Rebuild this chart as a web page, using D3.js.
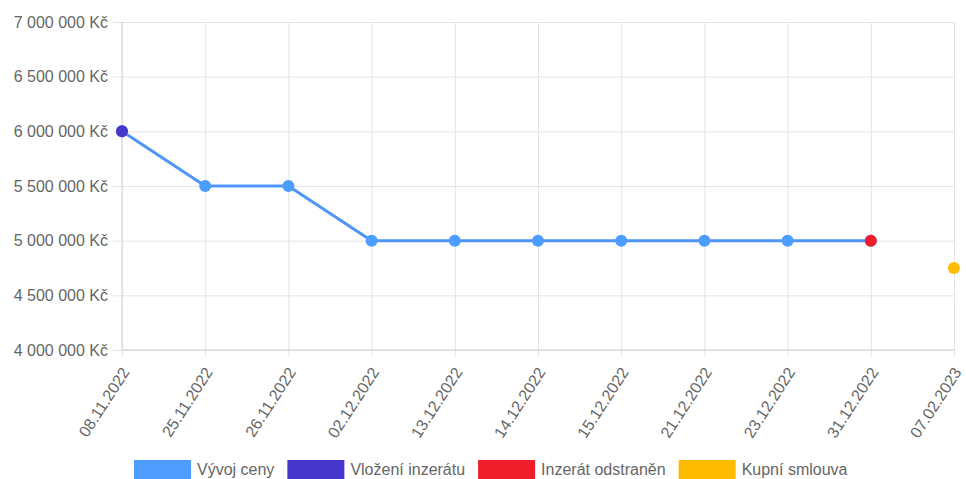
<!DOCTYPE html>
<html>
<head>
<meta charset="utf-8">
<script src="https://cdn.jsdelivr.net/npm/d3@7"></script>
<style>
  html, body { margin: 0; padding: 0; background: #fff; }
  svg { display: block; font-family: "Liberation Sans", Arial, sans-serif; }
</style>
</head>
<body>
<script>
// category dates on the x axis
const dates = ['08.11.2022', '25.11.2022', '26.11.2022', '02.12.2022', '13.12.2022',
  '14.12.2022', '15.12.2022', '21.12.2022', '23.12.2022', '31.12.2022', '07.02.2023'];

// series values (null = no point)
const priceHistory = [6000000, 5500000, 5500000, 5000000, 5000000, 5000000, 5000000, 5000000, 5000000, 5000000, null];
const listingAdded = [6000000, null, null, null, null, null, null, null, null, null, null];
const listingRemoved = [null, null, null, null, null, null, null, null, null, 5000000, null];
const purchaseContract = [null, null, null, null, null, null, null, null, null, null, 4750000];

const yTicks = [4000000, 4500000, 5000000, 5500000, 6000000, 6500000, 7000000];

const seriesNames = ['Vývoj ceny', 'Vložení inzerátu', 'Inzerát odstraněn', 'Kupní smlouva'];
const seriesColors = ['#4c9dff', '#4636cc', '#ee1f2a', '#ffbb00'];

const width = 966, height = 479;
const margin = { top: 22, right: 12, bottom: 129, left: 122 };

const svg = d3.select('body').append('svg')
  .attr('width', width)
  .attr('height', height);

const x = d3.scalePoint()
  .domain(dates)
  .range([margin.left, width - margin.right]);

const y = d3.scaleLinear()
  .domain([4000000, 7000000])
  .range([height - margin.bottom, margin.top]);

const fmt = v => d3.format(',')(v).replace(/,/g, '\u00a0') + '\u00a0Kč';

// horizontal grid + y labels
const yAxis = svg.append('g')
  .attr('transform', `translate(${margin.left},0)`)
  .call(d3.axisLeft(y).tickValues(yTicks).tickFormat(fmt)
    .tickSize(9).tickSizeOuter(0).tickPadding(5));
yAxis.select('.domain').remove();
yAxis.selectAll('.tick line')
  .attr('stroke', '#e4e4e4')
  .attr('x2', d => -9);
yAxis.selectAll('.tick').append('line')
  .attr('stroke', '#e4e4e4')
  .attr('x1', 0)
  .attr('x2', width - margin.right - margin.left);
yAxis.selectAll('.tick text')
  .attr('fill', '#666')
  .style('font-size', '16px')
  .style('font-family', '"Liberation Sans", Arial, sans-serif');

// vertical grid + x labels
const xAxis = svg.append('g')
  .attr('transform', `translate(0,${height - margin.bottom})`)
  .call(d3.axisBottom(x).tickSize(7).tickSizeOuter(0));
xAxis.select('.domain').remove();
xAxis.selectAll('.tick line').attr('stroke', '#e4e4e4');
xAxis.selectAll('.tick').append('line')
  .attr('stroke', '#e4e4e4')
  .attr('y1', 0)
  .attr('y2', -(height - margin.bottom - margin.top));
xAxis.selectAll('.tick text')
  .attr('fill', '#666')
  .style('font-size', '16px')
  .style('font-family', '"Liberation Sans", Arial, sans-serif')
  .attr('text-anchor', 'end')
  .attr('dy', '0.35em')
  .attr('transform', 'translate(3,19) rotate(-57)')
  .attr('y', 0);

// axis lines
svg.append('line')
  .attr('x1', margin.left).attr('x2', width - margin.right)
  .attr('y1', y(4000000)).attr('y2', y(4000000))
  .attr('stroke', '#cfcfcf');
svg.append('line')
  .attr('x1', margin.left).attr('x2', margin.left)
  .attr('y1', margin.top).attr('y2', y(4000000))
  .attr('stroke', '#d4d4d4');

// price line
const line = d3.line()
  .defined(d => d != null)
  .x((d, i) => x(dates[i]))
  .y(d => y(d));

svg.append('path')
  .datum(priceHistory)
  .attr('fill', 'none')
  .attr('stroke', '#4f95f8')
  .attr('stroke-width', 3)
  .attr('d', line);

const allSeries = [priceHistory, listingAdded, listingRemoved, purchaseContract];
allSeries.forEach((s, k) => {
  svg.append('g')
    .selectAll('circle')
    .data(s.map((v, i) => ({ v, i })).filter(d => d.v != null))
    .join('circle')
    .attr('cx', d => x(dates[d.i]))
    .attr('cy', d => y(d.v))
    .attr('r', 6)
    .attr('fill', seriesColors[k]);
});

// legend
const legend = svg.append('g');
let lx = 134;
seriesNames.forEach((name, k) => {
  legend.append('rect')
    .attr('x', lx).attr('y', 460)
    .attr('width', 57).attr('height', 19)
    .attr('fill', seriesColors[k]);
  const t = legend.append('text')
    .attr('x', lx + 63).attr('y', 475)
    .attr('fill', '#666')
    .style('font-size', '16px')
    .text(name);
  lx += 63 + t.node().getComputedTextLength() + 13;
});
</script>
</body>
</html>
